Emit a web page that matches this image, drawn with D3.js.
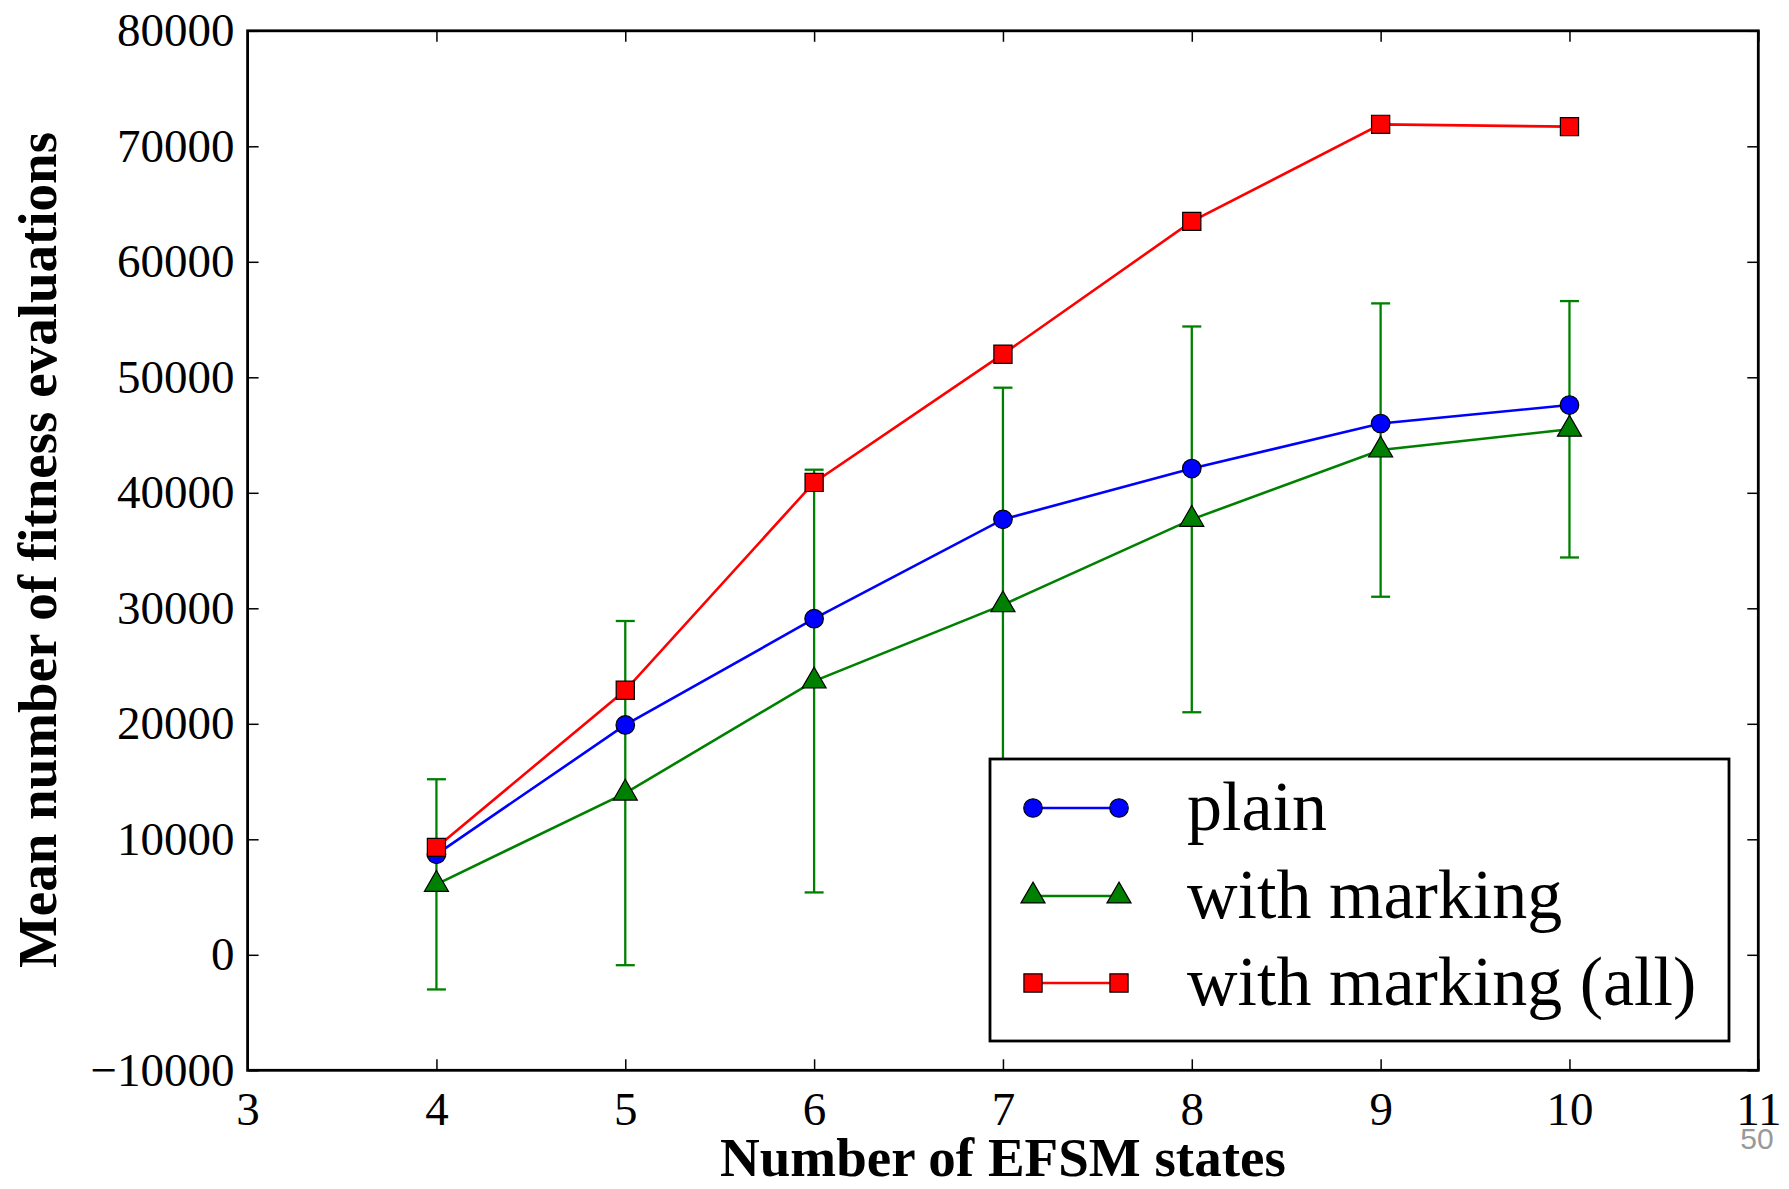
<!DOCTYPE html>
<html>
<head>
<meta charset="utf-8">
<script src="https://cdn.jsdelivr.net/npm/d3@7"></script>
<style>
  body { margin: 0; background: #fff; }
  svg { display: block; }
  .tick text { font-family: "Liberation Serif", "DejaVu Serif", serif; }
</style>
</head>
<body>
<svg id="chart" width="1789" height="1189"></svg>
<script>
// values
const states = [4, 5, 6, 7, 8, 9, 10];
const plainMeans = [8700, 19900, 29100, 37700, 42100, 46000, 47600];
const markingMeans = [6100, 14000, 23700, 30300, 37700, 43700, 45500];
const markingErr = [9100, 14900, 18300, 18800, 16700, 12700, 11100];
const markingAllMeans = [9300, 22900, 40900, 52000, 63500, 71900, 71700];

const xTicks = [3, 4, 5, 6, 7, 8, 9, 10, 11];
const yTicks = [-10000, 0, 10000, 20000, 30000, 40000, 50000, 60000, 70000, 80000];

const seriesNames = ['plain', 'with marking', 'with marking (all)'];

const margin = { left: 247.6, top: 30.8, right: 1789 - 1758.3, bottom: 1189 - 1070.3 };
const width = 1789 - margin.left - margin.right;
const height = 1189 - margin.top - margin.bottom;

const svg = d3.select('#chart');
const g = svg.append('g').attr('transform', `translate(${margin.left},${margin.top})`);

const x = d3.scaleLinear().domain([3, 11]).range([0, width]);
const y = d3.scaleLinear().domain([-10000, 80000]).range([height, 0]);

const fmt = d => d < 0 ? '\u2212' + Math.abs(d) : String(d);
const TICK = 11;

// axes (inward ticks on all four sides, matplotlib classic)
g.append('g').attr('transform', `translate(0,${height})`)
    .call(d3.axisBottom(x).tickValues(xTicks).tickFormat(d3.format('d'))
        .tickSizeInner(-TICK).tickSizeOuter(0).tickPadding(21));
g.append('g')
    .call(d3.axisLeft(y).tickValues(yTicks).tickFormat(fmt)
        .tickSizeInner(-TICK).tickSizeOuter(0).tickPadding(13));
g.append('g')
    .call(d3.axisTop(x).tickValues(xTicks).tickFormat('').tickSizeInner(-TICK).tickSizeOuter(0));
g.append('g').attr('transform', `translate(${width},0)`)
    .call(d3.axisRight(y).tickValues(yTicks).tickFormat('').tickSizeInner(-TICK).tickSizeOuter(0));

g.selectAll('.domain').remove();
g.selectAll('.tick line').attr('stroke', '#000').attr('stroke-width', 1.5);
g.selectAll('.tick text').attr('font-size', 47).attr('fill', '#000');

// error bars for "with marking"
const errG = g.append('g').attr('stroke', '#008000').attr('stroke-width', 2.3);
states.forEach((s, i) => {
    const lo = y(markingMeans[i] - markingErr[i]);
    const hi = y(markingMeans[i] + markingErr[i]);
    errG.append('line').attr('x1', x(s)).attr('x2', x(s)).attr('y1', lo).attr('y2', hi);
    [lo, hi].forEach(v => errG.append('line')
        .attr('x1', x(s) - 9.5).attr('x2', x(s) + 9.5).attr('y1', v).attr('y2', v));
});

const line = d3.line().x(d => x(d[0])).y(d => y(d[1]));

const series = [
    { name: seriesNames[1], values: markingMeans, color: '#008000', shape: d3.symbolTriangle, size: 250 },
    { name: seriesNames[0], values: plainMeans, color: '#0000ff', shape: d3.symbolCircle, size: 270 },
    { name: seriesNames[2], values: markingAllMeans, color: '#ff0000', shape: d3.symbolSquare, size: 330 },
];

function marker(sel, s) {
    sel.append('path')
        .attr('d', d3.symbol().type(s.shape).size(s.size))
        .attr('fill', s.color)
        .attr('stroke', '#000')
        .attr('stroke-width', 1.2);
}

series.forEach(s => {
    const pts = states.map((st, i) => [st, s.values[i]]);
    g.append('path').datum(pts)
        .attr('d', line)
        .attr('fill', 'none')
        .attr('stroke', s.color)
        .attr('stroke-width', 2.6);
    pts.forEach(p => {
        const m = g.append('g').attr('transform', `translate(${x(p[0])},${y(p[1])})`);
        marker(m, s);
    });
});

// frame
g.append('rect').attr('width', width).attr('height', height)
    .attr('fill', 'none').attr('stroke', '#000').attr('stroke-width', 2.8);

// legend
const lg = svg.append('g');
lg.append('rect').attr('x', 990).attr('y', 759).attr('width', 739).attr('height', 282)
    .attr('fill', '#fff').attr('stroke', '#000').attr('stroke-width', 2.8);
const legendOrder = [series[1], series[0], series[2]];
const legendY = [808, 896, 983];
legendOrder.forEach((s, i) => {
    const ly = legendY[i];
    lg.append('line').attr('x1', 1033).attr('x2', 1119).attr('y1', ly).attr('y2', ly)
        .attr('stroke', s.color).attr('stroke-width', 2.6);
    [1033, 1119].forEach(mx => marker(lg.append('g').attr('transform', `translate(${mx},${ly})`), s));
    lg.append('text').attr('x', 1187).attr('y', ly + 22)
        .attr('font-family', '"Liberation Serif", serif').attr('font-size', 70)
        .text(s.name);
});

// axis titles
svg.append('text')
    .attr('x', margin.left + width / 2).attr('y', 1176)
    .attr('text-anchor', 'middle')
    .attr('font-family', '"Liberation Serif", serif').attr('font-weight', 'bold').attr('font-size', 55)
    .text('Number of EFSM states');
svg.append('text')
    .attr('transform', 'translate(56,550) rotate(-90)')
    .attr('text-anchor', 'middle')
    .attr('font-family', '"Liberation Serif", serif').attr('font-weight', 'bold').attr('font-size', 55)
    .text('Mean number of fitness evaluations');

// page number
svg.append('text')
    .attr('x', 1757).attr('y', 1149).attr('text-anchor', 'middle')
    .attr('font-family', '"Liberation Sans", sans-serif').attr('font-size', 30).attr('fill', '#999')
    .text('50');
</script>
</body>
</html>
